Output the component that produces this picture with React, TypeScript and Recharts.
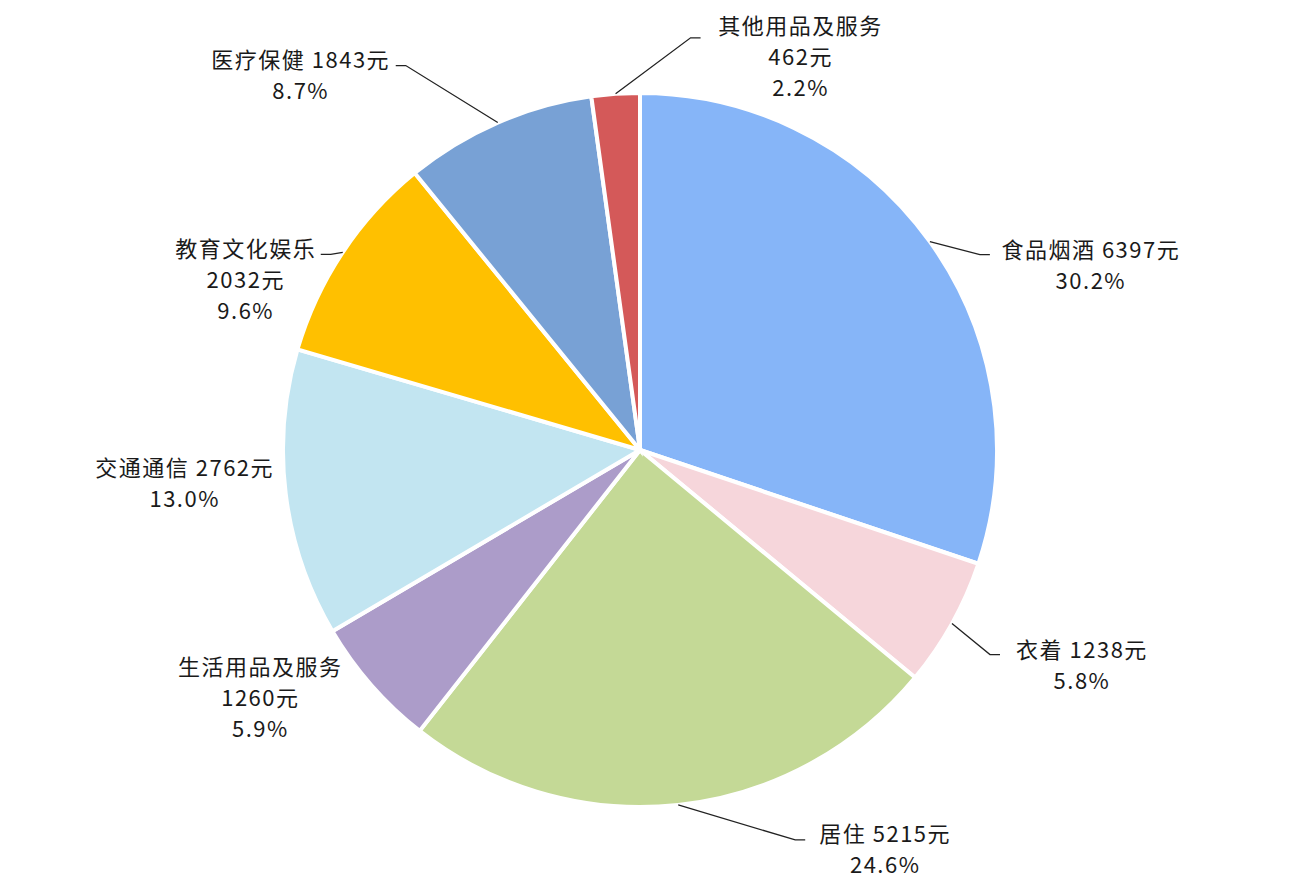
import { PieChart, Pie, Cell } from "recharts";

// 2019 per-capita consumption breakdown
const categories = [
  "食品烟酒",
  "衣着",
  "居住",
  "生活用品及服务",
  "交通通信",
  "教育文化娱乐",
  "医疗保健",
  "其他用品及服务",
];
const amounts = [6397, 1238, 5215, 1260, 2762, 2032, 1843, 462];
const shares = ["30.2%", "5.8%", "24.6%", "5.9%", "13.0%", "9.6%", "8.7%", "2.2%"];

const colors = [
  "#86B5F8",
  "#F6D6DB",
  "#C4D996",
  "#AC9CC9",
  "#C2E5F1",
  "#FFC000",
  "#78A1D5",
  "#D45959",
];

// how each label is broken into lines
const splitName = [false, false, false, true, false, true, false, true];

// label placement, relative to the slice's outer edge point
// b = leader elbow, c = centre of first text line, null b = no leader
const labelLayout: { b: [number, number] | null; c: [number, number] }[] = [
  { b: [50, 13], c: [161, 6] },
  { b: [38, 31], c: [130, 24] },
  { b: [117, 35], c: [207, 27] },
  { b: null, c: [-111, -20] },
  { b: null, c: [-101, -28] },
  { b: [-12, 2], c: [-97, -5] },
  { b: [-92, -57], c: [-197, -65] },
  { b: [75, -56], c: [185, -70] },
];

const data = categories.map((name, i) => ({
  name,
  value: amounts[i],
  share: shares[i],
}));

const RAD = Math.PI / 180;
const LINE_H = 31;

const renderLabel = (props: any) => {
  const { cx, cy, midAngle, outerRadius, index } = props;
  const ex = cx + outerRadius * Math.cos(-midAngle * RAD);
  const ey = cy + outerRadius * Math.sin(-midAngle * RAD);
  const lay = labelLayout[index];
  const lines = splitName[index]
    ? [categories[index], `${amounts[index]}元`, shares[index]]
    : [`${categories[index]} ${amounts[index]}元`, shares[index]];
  const tx = ex + lay.c[0];
  const ty = ey + lay.c[1];

  let path = null;
  if (lay.b) {
    const bx = ex + lay.b[0];
    const by = ey + lay.b[1];
    const hx = bx + (lay.b[0] >= 0 ? 10 : -10);
    path = (
      <polyline
        points={`${ex},${ey} ${bx},${by} ${hx},${by}`}
        fill="none"
        stroke="#222"
        strokeWidth={1.3}
      />
    );
  }

  return (
    <g key={`lbl-${index}`}>
      {path}
      {lines.map((t, k) => (
        <text
          key={k}
          x={tx}
          y={ty + k * LINE_H}
          textAnchor="middle"
          dominantBaseline="central"
          fontFamily="'Noto Sans CJK SC', sans-serif"
          fontSize={22}
          letterSpacing={1.5}
          fill="#1a1a1a"
        >
          {t}
        </text>
      ))}
    </g>
  );
};

export default function App() {
  return (
    <div style={{ position: "absolute", left: 0, top: 0, background: "#fff" }}>
      <PieChart
        width={1293}
        height={896}
        margin={{ top: 0, right: 0, bottom: 0, left: 0 }}
      >
        <Pie
          data={data}
          dataKey="value"
          nameKey="name"
          cx={640}
          cy={450}
          outerRadius={357}
          startAngle={90}
          endAngle={-270}
          stroke="#fff"
          strokeWidth={4}
          label={renderLabel}
          labelLine={false}
          isAnimationActive={false}
        >
          {data.map((d, i) => (
            <Cell key={d.name} fill={colors[i]} />
          ))}
        </Pie>
      </PieChart>
    </div>
  );
}
